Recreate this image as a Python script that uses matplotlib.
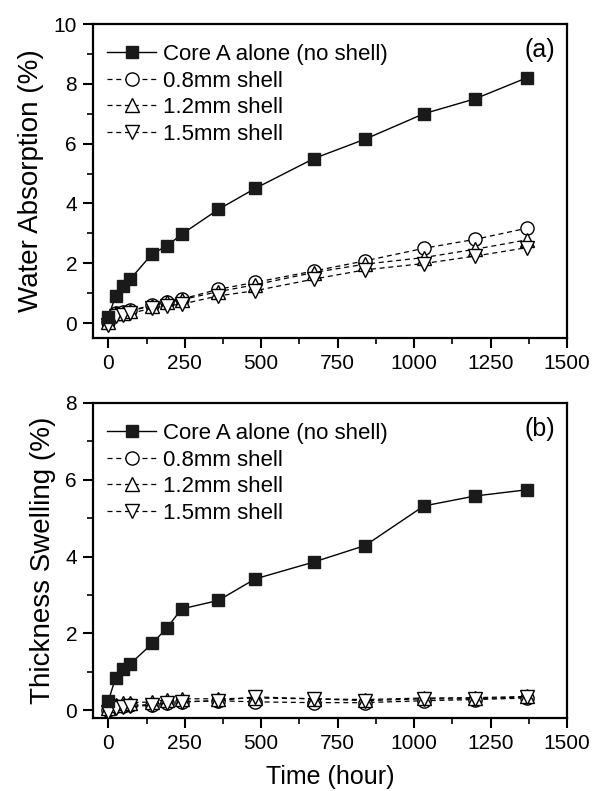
import matplotlib
matplotlib.use("Agg")
import matplotlib.pyplot as plt
from matplotlib.ticker import MultipleLocator

plt.rcParams['font.family'] = ['Liberation Sans', 'DejaVu Sans']

time = [0, 24, 48, 72, 144, 192, 240, 360, 480, 672, 840, 1032, 1200, 1368]

labels = ["Core A alone (no shell)", "0.8mm shell", "1.2mm shell", "1.5mm shell"]

# Panel (a): water absorption (%)
wa_core = [0.2, 0.91, 1.24, 1.47, 2.32, 2.58, 2.97, 3.8, 4.5, 5.5, 6.15, 7.0, 7.5, 8.2]
wa_08 = [0.05, 0.35, 0.38, 0.42, 0.6, 0.72, 0.8, 1.13, 1.36, 1.74, 2.08, 2.5, 2.8, 3.17]
wa_12 = [0.02, 0.33, 0.35, 0.4, 0.58, 0.7, 0.78, 1.05, 1.28, 1.69, 1.97, 2.19, 2.47, 2.78]
wa_15 = [-0.05, 0.25, 0.28, 0.32, 0.5, 0.58, 0.63, 0.91, 1.08, 1.47, 1.78, 1.99, 2.24, 2.52]

# Panel (b): thickness swelling (%)
ts_core = [0.24, 0.85, 1.07, 1.21, 1.74, 2.15, 2.64, 2.86, 3.42, 3.86, 4.29, 5.32, 5.58, 5.74]
ts_08 = [0.0, 0.1, 0.12, 0.13, 0.15, 0.2, 0.22, 0.25, 0.22, 0.2, 0.2, 0.25, 0.28, 0.32]
ts_12 = [0.05, 0.15, 0.18, 0.2, 0.22, 0.28, 0.3, 0.3, 0.32, 0.3, 0.28, 0.32, 0.33, 0.36]
ts_15 = [-0.05, 0.05, 0.08, 0.1, 0.13, 0.2, 0.22, 0.25, 0.35, 0.3, 0.25, 0.3, 0.3, 0.35]

fig = plt.figure(figsize=(5.93, 7.91), dpi=100)
ax1 = fig.add_axes([93/593, 1-338/791, 474/593, 314/791])
ax2 = fig.add_axes([93/593, 1-718/791, 474/593, 315/791])

def draw(ax, core, s08, s12, s15, ylim, ymaj, ylabel, tag):
    ax.plot(time, core, '-', color='black', lw=1.0, marker='s', ms=9,
            mfc='#1a1a1a', mec='#1a1a1a', label=labels[0], zorder=5)
    dash = (0, (4, 3))
    ax.plot(time, s08, linestyle=dash, color='black', lw=0.9, marker='o', ms=9.5,
            mfc='white', mec='black', mew=1.0, label=labels[1], zorder=3)
    ax.plot(time, s12, linestyle=dash, color='black', lw=0.9, marker='^', ms=10.5,
            mfc='white', mec='black', mew=1.0, label=labels[2], zorder=3)
    ax.plot(time, s15, linestyle=dash, color='black', lw=0.9, marker='v', ms=10.5,
            mfc='white', mec='black', mew=1.0, label=labels[3], zorder=3)
    ax.set_xlim(-50, 1500)
    ax.set_ylim(*ylim)
    ax.xaxis.set_major_locator(MultipleLocator(250))
    ax.xaxis.set_minor_locator(MultipleLocator(125))
    ax.yaxis.set_major_locator(MultipleLocator(ymaj))
    ax.yaxis.set_minor_locator(MultipleLocator(ymaj/2))
    ax.tick_params(which='major', direction='out', length=7.5, width=1.5, labelsize=15, pad=4)
    ax.tick_params(which='minor', direction='out', length=4.5, width=1.2)
    for sp in ax.spines.values():
        sp.set_linewidth(1.6)
    ax.set_ylabel(ylabel, fontsize=20, labelpad=7)
    ax.legend(loc='upper left', fontsize=16, frameon=False, handlelength=2.2,
              handletextpad=0.3, labelspacing=0.25, borderaxespad=0.4,
              bbox_to_anchor=(-0.007, 0.993))
    ax.text(0.975, 0.917, tag, transform=ax.transAxes, fontsize=18,
            ha='right', va='center')

draw(ax1, wa_core, wa_08, wa_12, wa_15, (-0.5, 10), 2, "Water Absorption (%)", "(a)")
draw(ax2, ts_core, ts_08, ts_12, ts_15, (-0.2, 8), 2, "Thickness Swelling (%)", "(b)")
ax2.set_xlabel("Time (hour)", fontsize=18, labelpad=9)

fig.savefig("out.png", dpi=100)
